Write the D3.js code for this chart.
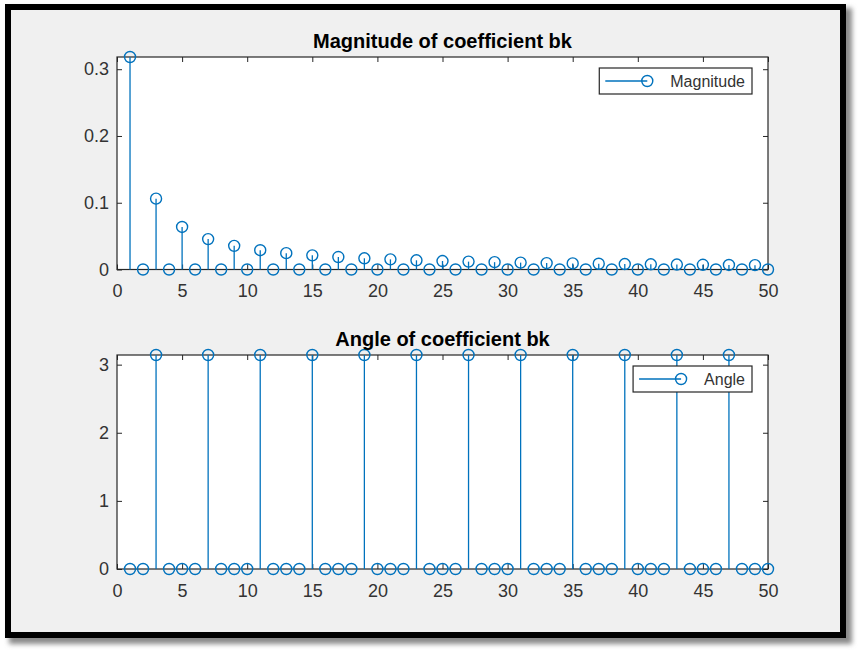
<!DOCTYPE html>
<html>
<head>
<meta charset="utf-8">
<script src="https://cdn.jsdelivr.net/npm/d3@7"></script>
<style>
  html, body { margin: 0; padding: 0; background: #ffffff; }
  svg { display: block; }
  text { font-family: "Liberation Sans", Arial, Helvetica, sans-serif; }
</style>
</head>
<body>
<svg id="chart" width="859" height="651"></svg>
<script>
// ---------------- data ----------------
const kValues = [1,2,3,4,5,6,7,8,9,10,11,12,13,14,15,16,17,18,19,20,
                 21,22,23,24,25,26,27,28,29,30,31,32,33,34,35,36,37,38,39,40,
                 41,42,43,44,45,46,47,48,49,50];
const magnitudeValues = [0.3183,0,0.1061,0,0.0637,0,0.0455,0,0.0354,0,
                         0.0289,0,0.0245,0,0.0212,0,0.0187,0,0.0168,0,
                         0.0152,0,0.0138,0,0.0127,0,0.0118,0,0.0110,0,
                         0.0103,0,0.0096,0,0.0091,0,0.0086,0,0.0082,0,
                         0.0078,0,0.0074,0,0.0071,0,0.0068,0,0.0065,0];
const angleValues = [0,0,3.1416,0,0,0,3.1416,0,0,0,
                     3.1416,0,0,0,3.1416,0,0,0,3.1416,0,
                     0,0,3.1416,0,0,0,3.1416,0,0,0,
                     3.1416,0,0,0,3.1416,0,0,0,3.1416,0,
                     0,0,3.1416,0,0,0,3.1416,0,0,0];
const xTicks = [0,5,10,15,20,25,30,35,40,45,50];
const magTicks = [0,0.1,0.2,0.3];
const magTickLabels = ["0","0.1","0.2","0.3"];
const angTicks = [0,1,2,3];
const angTickLabels = ["0","1","2","3"];
const titles = ["Magnitude of coefficient bk", "Angle of coefficient bk"];
const legendNames = ["Magnitude", "Angle"];
const xDomain = [0, 50];
const magDomain = [0, 0.3183];
const angDomain = [0, 3.1416];

// ---------------- layout ----------------
const svg = d3.select("#chart");
const blue = "#0072BD";
const axisColor = "#262626";
const labelColor = "#333333";

// frame with shadow
const defs = svg.append("defs");
const f = defs.append("filter").attr("id", "shadow").attr("x", "-5%").attr("y", "-5%").attr("width", "115%").attr("height", "115%");
f.append("feGaussianBlur").attr("stdDeviation", 2.5);
svg.append("rect").attr("x", 9).attr("y", 8).attr("width", 843).attr("height", 636)
   .attr("fill", "#8a8a8a").attr("filter", "url(#shadow)");
svg.append("rect").attr("x", 5).attr("y", 4).attr("width", 841).attr("height", 634).attr("fill", "#000");
svg.append("rect").attr("x", 11).attr("y", 10).attr("width", 829).attr("height", 622).attr("fill", "#f0f0f0");

const left = 117, right = 768;
const panels = [
  { top: 57, bottom: 269.5, values: magnitudeValues, domain: magDomain, ticks: magTicks, labels: magTickLabels, title: titles[0], legend: legendNames[0] },
  { top: 355, bottom: 569, values: angleValues, domain: angDomain, ticks: angTicks, labels: angTickLabels, title: titles[1], legend: legendNames[1] }
];

const x = d3.scaleLinear().domain(xDomain).range([left, right]);

panels.forEach(p => {
  const y = d3.scaleLinear().domain(p.domain).range([p.bottom, p.top]);
  const g = svg.append("g");

  // axes background
  g.append("rect").attr("x", left).attr("y", p.top).attr("width", right - left).attr("height", p.bottom - p.top).attr("fill", "#fff");

  // bottom axis (labels + inward ticks)
  const xAxis = d3.axisBottom(x).tickValues(xTicks).tickSizeInner(-5).tickSizeOuter(0).tickPadding(15).tickFormat(d3.format("d"));
  const gx = g.append("g").attr("transform", `translate(0,${p.bottom})`).call(xAxis);
  // top axis (ticks only)
  const gxt = g.append("g").attr("transform", `translate(0,${p.top})`).call(d3.axisTop(x).tickValues(xTicks).tickSizeInner(-5).tickSizeOuter(0).tickFormat(""));
  // left axis
  const yAxis = d3.axisLeft(y).tickValues(p.ticks).tickSizeInner(-5).tickSizeOuter(0).tickPadding(8)
                 .tickFormat((d, i) => p.labels[i]);
  const gy = g.append("g").attr("transform", `translate(${left},0)`).call(yAxis);
  // right axis (ticks only)
  const gyr = g.append("g").attr("transform", `translate(${right},0)`).call(d3.axisRight(y).tickValues(p.ticks).tickSizeInner(-5).tickSizeOuter(0).tickFormat(""));

  [gx, gxt, gy, gyr].forEach(a => {
    a.select(".domain").remove();
    a.selectAll(".tick line").attr("stroke", axisColor).attr("stroke-width", 1);
    a.selectAll(".tick text").attr("fill", labelColor).attr("font-size", 18)
      .attr("font-family", '"Liberation Sans", Arial, Helvetica, sans-serif');
  });
  gx.selectAll(".tick text").attr("dy", "0.71em");

  // box
  g.append("rect").attr("x", left).attr("y", p.top).attr("width", right - left).attr("height", p.bottom - p.top)
    .attr("fill", "none").attr("stroke", axisColor).attr("stroke-width", 1.2);

  // stems
  const data = kValues.map((k, i) => ({ k, v: p.values[i] }));
  g.append("g").selectAll("line").data(data).join("line")
    .attr("x1", d => x(d.k)).attr("x2", d => x(d.k))
    .attr("y1", y(0)).attr("y2", d => y(d.v))
    .attr("stroke", blue).attr("stroke-width", 1.3);
  g.append("g").selectAll("circle").data(data).join("circle")
    .attr("cx", d => x(d.k)).attr("cy", d => y(d.v)).attr("r", 5.5)
    .attr("fill", "none").attr("stroke", blue).attr("stroke-width", 1.4);

  // title
  g.append("text").attr("x", (left + right) / 2).attr("y", p.top - 9).attr("text-anchor", "middle")
    .attr("font-size", 20).attr("font-weight", "bold").attr("fill", "#000").text(p.title);

  // legend
  const lg = g.append("g");
  const boxRight = right - 16, boxTop = p.top + 11, boxH = 26;
  const txt = lg.append("text").attr("font-size", 16).attr("fill", labelColor).text(p.legend);
  const tw = txt.node().getComputedTextLength();
  const boxW = 71 + tw + 7;
  const boxLeft = boxRight - boxW;
  const cy = boxTop + boxH / 2;
  lg.insert("rect", "text").attr("x", boxLeft).attr("y", boxTop).attr("width", boxW).attr("height", boxH)
    .attr("fill", "#fff").attr("stroke", axisColor).attr("stroke-width", 1.2);
  lg.append("line").attr("x1", boxLeft + 6).attr("x2", boxLeft + 48).attr("y1", cy).attr("y2", cy)
    .attr("stroke", blue).attr("stroke-width", 1.3);
  lg.append("circle").attr("cx", boxLeft + 48).attr("cy", cy).attr("r", 5.5)
    .attr("fill", "none").attr("stroke", blue).attr("stroke-width", 1.4);
  txt.attr("x", boxLeft + 71).attr("y", cy).attr("dy", "0.35em");
});
</script>
</body>
</html>
